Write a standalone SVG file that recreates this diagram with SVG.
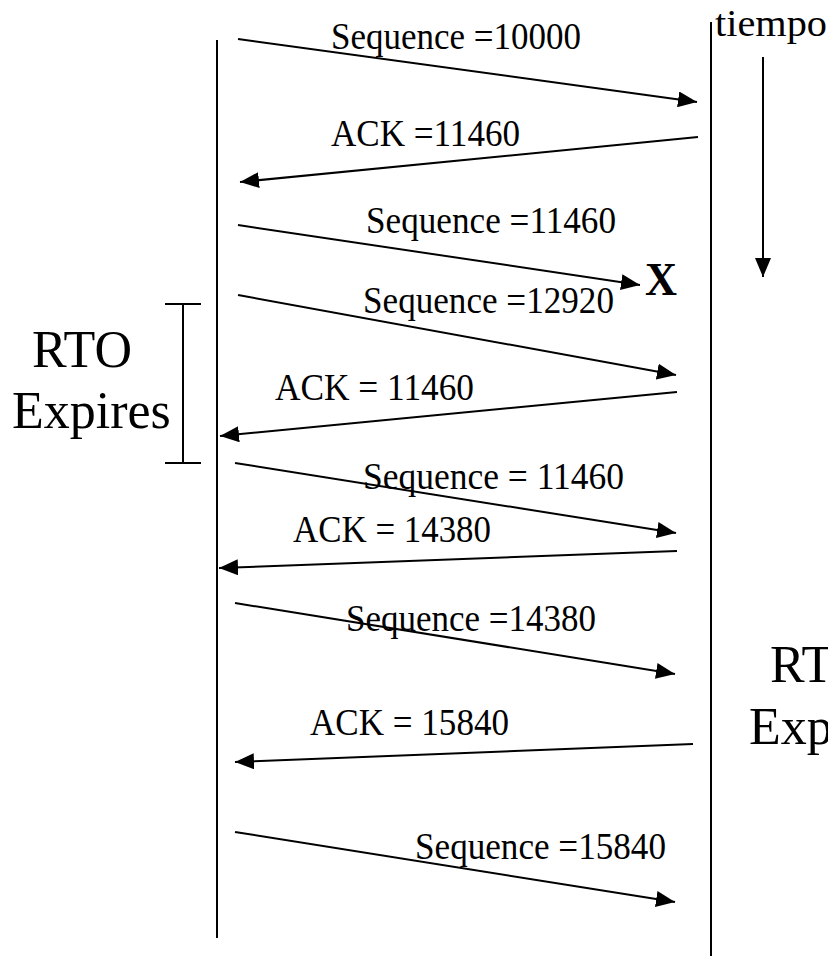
<svg xmlns="http://www.w3.org/2000/svg" width="828" height="956" viewBox="0 0 828 956">
  <style>
    .lbl { font-family: "Liberation Serif", "Times New Roman", serif; font-size: 37px; fill: #000; }
    .big { font-family: "Liberation Serif", "Times New Roman", serif; font-size: 52px; fill: #000; }
    .msg { stroke: #000; stroke-width: 2; fill: none; marker-end: url(#ah); }
    .life { stroke: #000; stroke-width: 2; fill: none; }
  </style>
  <defs>
    <marker id="ah" markerUnits="userSpaceOnUse" markerWidth="19" markerHeight="16" refX="19" refY="8" orient="auto">
      <path d="M0,0 L19,8 L0,16 Z" fill="#000"/>
    </marker>
  </defs>
  <rect x="0" y="0" width="828" height="956" fill="#fff"/>

  <g id="sender-lifeline">
    <line class="life" x1="217" y1="40" x2="217" y2="938"/>
  </g>
  <g id="receiver-lifeline">
    <line class="life" x1="711" y1="22" x2="711" y2="956"/>
  </g>

  <g id="time-axis">
    <text class="lbl" x="715" y="36" textLength="112" lengthAdjust="spacingAndGlyphs">tiempo</text>
    <line class="msg" x1="763" y1="57" x2="763" y2="277"/>
  </g>

  <g id="rto-left">
    <line class="life" x1="183" y1="304" x2="183" y2="463"/>
    <line class="life" x1="165" y1="304" x2="201" y2="304"/>
    <line class="life" x1="165" y1="463" x2="201" y2="463"/>
    <text class="big" x="32" y="367">RTO</text>
    <text class="big" x="12" y="428">Expires</text>
  </g>

  <g id="rto-right">
    <text class="big" x="770" y="682">RTO</text>
    <text class="big" x="749" y="744">Expires</text>
  </g>

  <g id="loss-mark">
    <text x="645" y="295" font-family="Liberation Serif, Times New Roman, serif" font-size="47" font-weight="bold" textLength="32" lengthAdjust="spacingAndGlyphs">X</text>
  </g>

  <g id="connectors">
    <line class="msg" x1="238" y1="39" x2="697" y2="102"/>
    <line class="msg" x1="698" y1="137" x2="240" y2="182"/>
    <line class="msg" x1="238" y1="225" x2="640" y2="285"/>
    <line class="msg" x1="238" y1="295" x2="676" y2="375"/>
    <line class="msg" x1="677" y1="392" x2="220" y2="436"/>
    <line class="msg" x1="235" y1="463" x2="676" y2="533"/>
    <line class="msg" x1="677" y1="551" x2="219" y2="568"/>
    <line class="msg" x1="235" y1="603" x2="675" y2="674"/>
    <line class="msg" x1="693" y1="744" x2="235" y2="762"/>
    <line class="msg" x1="235" y1="832" x2="675" y2="902"/>
  </g>

  <g id="message-labels">
    <text class="lbl" x="331" y="49" textLength="250" lengthAdjust="spacingAndGlyphs">Sequence =10000</text>
    <text class="lbl" x="331" y="146" textLength="189" lengthAdjust="spacingAndGlyphs">ACK =11460</text>
    <text class="lbl" x="366" y="233" textLength="250" lengthAdjust="spacingAndGlyphs">Sequence =11460</text>
    <text class="lbl" x="363" y="313" textLength="251" lengthAdjust="spacingAndGlyphs">Sequence =12920</text>
    <text class="lbl" x="275" y="400" textLength="199" lengthAdjust="spacingAndGlyphs">ACK = 11460</text>
    <text class="lbl" x="363" y="489" textLength="261" lengthAdjust="spacingAndGlyphs">Sequence = 11460</text>
    <text class="lbl" x="293" y="542" textLength="198" lengthAdjust="spacingAndGlyphs">ACK = 14380</text>
    <text class="lbl" x="346" y="631" textLength="250" lengthAdjust="spacingAndGlyphs">Sequence =14380</text>
    <text class="lbl" x="310" y="735" textLength="199" lengthAdjust="spacingAndGlyphs">ACK = 15840</text>
    <text class="lbl" x="415" y="859" textLength="251" lengthAdjust="spacingAndGlyphs">Sequence =15840</text>
  </g>
</svg>
